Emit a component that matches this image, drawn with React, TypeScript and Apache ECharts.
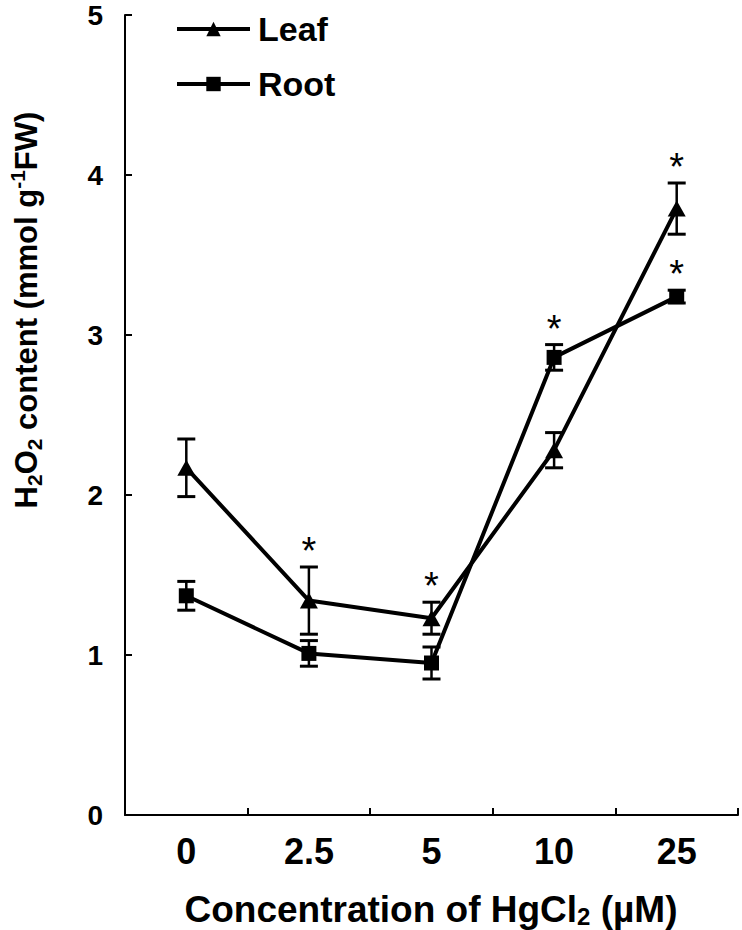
import React, { useEffect, useRef } from "react";
import * as echarts from "echarts";

const categories = ["0", "2.5", "5", "10", "25"];
const leafMean = [2.17, 1.34, 1.23, 2.28, 3.79];
const leafErr = [0.18, 0.21, 0.1, 0.11, 0.16];
const rootMean = [1.37, 1.01, 0.95, 2.86, 3.24];
const rootErr = [0.09, 0.08, 0.1, 0.08, 0.04];
const leafSig = [false, true, true, false, true];
const rootSig = [false, false, false, true, true];
const yTicks = [0, 1, 2, 3, 4, 5];

const ARIAL = "'Liberation Sans', Arial, sans-serif";

export default function App() {
  const ref = useRef<HTMLDivElement>(null);
  useEffect(() => {
    if (!ref.current) return;
    const chart = echarts.init(ref.current, undefined, { renderer: "svg" });

    const errData = (mean: number[], err: number[]) =>
      mean.map((m, i) => [i, m - err[i], m + err[i]]);
    const starData = [
      ...leafMean.map((m, i) => (leafSig[i] ? [i, m + leafErr[i]] : null)),
      ...rootMean.map((m, i) => (rootSig[i] ? [i, m + rootErr[i]] : null)),
    ].filter((d) => d !== null);

    const errRender = (params: any, api: any) => {
      const x = api.value(0);
      const top = api.coord([x, api.value(2)]);
      const bot = api.coord([x, api.value(1)]);
      const w = 9;
      return {
        type: "group",
        children: [
          { type: "line", shape: { x1: top[0], y1: top[1], x2: bot[0], y2: bot[1] }, style: { stroke: "#000", lineWidth: 2.5 } },
          { type: "line", shape: { x1: top[0] - w, y1: top[1], x2: top[0] + w, y2: top[1] }, style: { stroke: "#000", lineWidth: 3 } },
          { type: "line", shape: { x1: bot[0] - w, y1: bot[1], x2: bot[0] + w, y2: bot[1] }, style: { stroke: "#000", lineWidth: 3 } },
        ],
      };
    };

    const option: any = {
      animation: false,
      backgroundColor: "#fff",
      grid: { left: 125, right: 4, top: 15, bottom: 115, containLabel: false },
      legend: {
        data: ["Leaf", "Root"],
        orient: "vertical",
        left: 170,
        top: 5,
        itemWidth: 73,
        itemHeight: 18,
        itemGap: 17,
        lineStyle: { width: 4, color: "#000" },
        textStyle: { fontSize: 34, fontWeight: "bold", fontFamily: ARIAL, color: "#000", lineHeight: 38, padding: [0, 0, 0, 3] },
      },
      xAxis: {
        type: "category",
        data: categories,
        boundaryGap: true,
        axisLine: { show: true, lineStyle: { color: "#000", width: 2 } },
        axisTick: { show: true, inside: true, length: 7, lineStyle: { color: "#000", width: 2 } },
        axisLabel: { color: "#000", fontSize: 36, fontWeight: "bold", fontFamily: ARIAL, margin: 18 },
        splitLine: { show: false },
      },
      yAxis: {
        type: "value",
        min: 0,
        max: 5,
        interval: 1,
        axisLine: { show: true, lineStyle: { color: "#000", width: 2 } },
        axisTick: { show: true, inside: true, length: 7, lineStyle: { color: "#000", width: 2 } },
        axisLabel: { color: "#000", fontSize: 28, lineHeight: 28, fontWeight: "bold", fontFamily: ARIAL, margin: 22, formatter: (v: number) => (yTicks.includes(v) ? String(v) : "") },
        splitLine: { show: false },
      },
      graphic: [
        {
          type: "text",
          x: 431,
          y: 906,
          style: {
            text: "{a|Concentration of HgCl}{s|2}{a| (µM)}",
            align: "center",
            verticalAlign: "middle",
            rich: {
              a: { fontSize: 37, fontWeight: "bold", fontFamily: ARIAL, fill: "#000", lineHeight: 44, verticalAlign: "bottom" },
              s: { fontSize: 24, fontWeight: "bold", fontFamily: ARIAL, fill: "#000", lineHeight: 24, verticalAlign: "bottom" },
            },
          },
        },
        {
          type: "text",
          x: 26,
          y: 310,
          rotation: Math.PI / 2,
          style: {
            text: "{a|H}{s|2}{a|O}{s|2}{a| content (mmol g}{p|-1}{a|FW)}",
            align: "center",
            verticalAlign: "middle",
            rich: {
              a: { fontSize: 31, fontWeight: "bold", fontFamily: ARIAL, fill: "#000", lineHeight: 38, verticalAlign: "middle" },
              s: { fontSize: 21, fontWeight: "bold", fontFamily: ARIAL, fill: "#000", lineHeight: 21, verticalAlign: "bottom" },
              p: { fontSize: 21, fontWeight: "bold", fontFamily: ARIAL, fill: "#000", lineHeight: 21, verticalAlign: "top" },
            },
          },
        },
      ],
      series: [
        {
          name: "Leaf",
          type: "line",
          data: leafMean,
          symbol: "triangle",
          symbolSize: [18, 16],
          itemStyle: { color: "#000" },
          lineStyle: { color: "#000", width: 4 },
          z: 3,
        },
        {
          name: "Root",
          type: "line",
          data: rootMean,
          symbol: "rect",
          symbolSize: 15,
          itemStyle: { color: "#000" },
          lineStyle: { color: "#000", width: 4 },
          z: 3,
        },
        { name: "leafErr", type: "custom", data: errData(leafMean, leafErr), renderItem: errRender, z: 4 },
        { name: "rootErr", type: "custom", data: errData(rootMean, rootErr), renderItem: errRender, z: 4 },
        {
          name: "stars",
          type: "custom",
          data: starData,
          z: 5,
          renderItem: (params: any, api: any) => {
            const p = api.coord([api.value(0), api.value(1)]);
            return {
              type: "text",
              x: p[0],
              y: p[1] - 16,
              style: { text: "*", fontSize: 38, fontFamily: ARIAL, fill: "#000", align: "center", verticalAlign: "middle" },
            };
          },
        },
      ],
    };
    chart.setOption(option);
    return () => chart.dispose();
  }, []);
  return <div ref={ref} style={{ position: "absolute", left: 0, top: 0, width: 742, height: 930 }} />;
}
